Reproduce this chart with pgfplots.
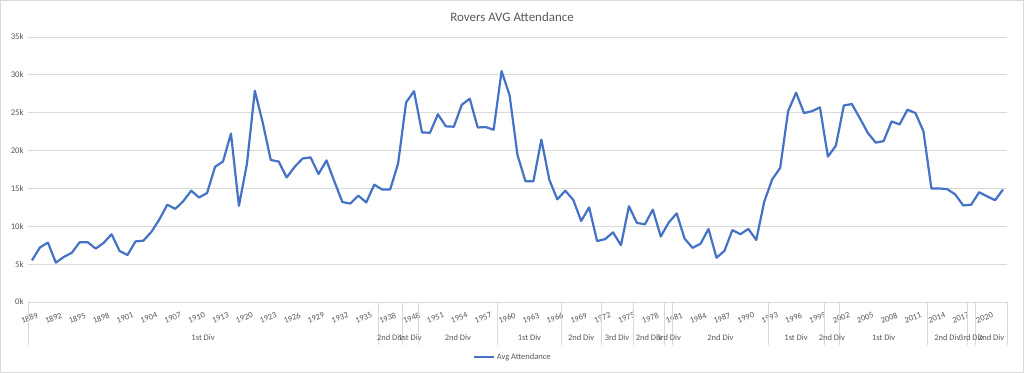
\documentclass[border=0pt]{standalone}
\usepackage{pgfplots}
\pgfplotsset{compat=1.18}
\usepackage{pgfplotstable}
\usepackage{fontspec}
\setmainfont{Carlito}
\definecolor{linecol}{HTML}{4472C4}
\definecolor{gridcol}{HTML}{D9D9D9}
\definecolor{txtcol}{HTML}{595959}

\pgfplotstableread{
idx att
0 5500
1 7200
2 7850
3 5200
4 5950
5 6500
6 7900
7 7900
8 7050
9 7800
10 8950
11 6750
12 6200
13 8000
14 8100
15 9250
16 10900
17 12850
18 12300
19 13300
20 14700
21 13800
22 14400
23 17850
24 18550
25 22250
26 12700
27 18200
28 27900
29 23650
30 18750
31 18550
32 16450
33 17850
34 18950
35 19100
36 16900
37 18700
38 15900
39 13200
40 13000
41 14050
42 13150
43 15500
44 14850
45 14850
46 18300
47 26350
48 27850
49 22400
50 22350
51 24800
52 23200
53 23150
54 26050
55 26850
56 23050
57 23100
58 22750
59 30500
60 27350
61 19400
62 15950
63 15950
64 21450
65 16150
66 13550
67 14700
68 13500
69 10700
70 12500
71 8050
72 8300
73 9200
74 7500
75 12650
76 10450
77 10250
78 12200
79 8650
80 10500
81 11700
82 8350
83 7150
84 7700
85 9650
86 5850
87 6750
88 9500
89 8950
90 9650
91 8200
92 13250
93 16200
94 17700
95 25200
96 27650
97 24950
98 25200
99 25700
100 19200
101 20650
102 25950
103 26150
104 24300
105 22350
106 21050
107 21250
108 23850
109 23450
110 25400
111 24950
112 22550
113 15000
114 15000
115 14900
116 14200
117 12750
118 12850
119 14500
120 13950
121 13450
122 14850
}\attdata

\begin{document}
\begin{tikzpicture}
\path[use as bounding box] (0,0) rectangle (1024bp,373bp);
\draw[gridcol, line width=0.75bp] (0.5bp,0.5bp) rectangle (1023.5bp,372.5bp);
\node[txtcol, font=\fontsize{13}{15}\selectfont] at (512bp,356bp) {Rovers AVG Attendance};
\begin{axis}[
  at={(28bp,71bp)}, anchor=south west,
  scale only axis, width=979bp, height=265bp,
  xmin=-0.5, xmax=122.5, ymin=0, ymax=35,
  clip=false,
  axis line style={draw=none},
  major tick length=0pt,
  ymajorgrids, grid style={gridcol, line width=0.75bp},
  ytick={0,5,...,35},
  yticklabel={\pgfmathparse{int(\tick)}\pgfmathresult k},
  yticklabel style={font=\fontsize{8.7}{10}\selectfont, text=txtcol, xshift=-1bp},
  xtick={0,3,...,120},
  xticklabels={1889,1892,1895,1898,1901,1904,1907,1910,1913,1920,1923,1926,1929,1932,1935,1938,1948,1951,1954,1957,1960,1963,1966,1969,1972,1975,1978,1981,1984,1987,1990,1993,1996,1999,2002,2005,2008,2011,2014,2017,2020},
  xticklabel style={font=\fontsize{8.5}{10}\selectfont, text=txtcol, rotate=20, anchor=north east, yshift=-10bp, xshift=2bp, inner sep=1bp},
  legend style={at={(0.495,-0.2075)}, anchor=center, draw=none, fill=none, font=\fontsize{8.5}{10}\selectfont, text=txtcol},
  legend image code/.code={\draw[#1, line width=2.2bp] (0bp,0bp) -- (20bp,0bp);},
]
\addplot[linecol, line width=2.2bp, mark=none, line join=round] table[x=idx, y expr=\thisrow{att}/1000] {\attdata};
\addlegendentry{Avg Attendance}
\pgfplotsinvokeforeach{-0.5,43.5,46.5,48.5,58.5,66.5,71.5,75.5,79.5,80.5,92.5,99.5,101.5,112.5,117.5,118.5,122.5}{
  \draw[gridcol, line width=0.75bp] (axis cs:#1,0) -- ([yshift=-43bp]axis cs:#1,0);
}
\begin{scope}[every node/.style={font=\fontsize{8.5}{10}\selectfont, text=txtcol, yshift=-36bp}]
\node at (axis cs:21.5,0) {1st Div};
\node at (axis cs:45,0) {2nd Div};
\node at (axis cs:47.5,0) {1st Div};
\node at (axis cs:53.5,0) {2nd Div};
\node at (axis cs:62.5,0) {1st Div};
\node at (axis cs:69,0) {2nd Div};
\node at (axis cs:73.5,0) {3rd Div};
\node at (axis cs:77.5,0) {2nd Div};
\node at (axis cs:80,0) {3rd Div};
\node at (axis cs:86.5,0) {2nd Div};
\node at (axis cs:96,0) {1st Div};
\node at (axis cs:100.5,0) {2nd Div};
\node at (axis cs:107,0) {1st Div};
\node at (axis cs:115,0) {2nd Div};
\node at (axis cs:118,0) {3rd Div};
\node at (axis cs:120.5,0) {2nd Div};
\end{scope}
\end{axis}
\end{tikzpicture}
\end{document}
